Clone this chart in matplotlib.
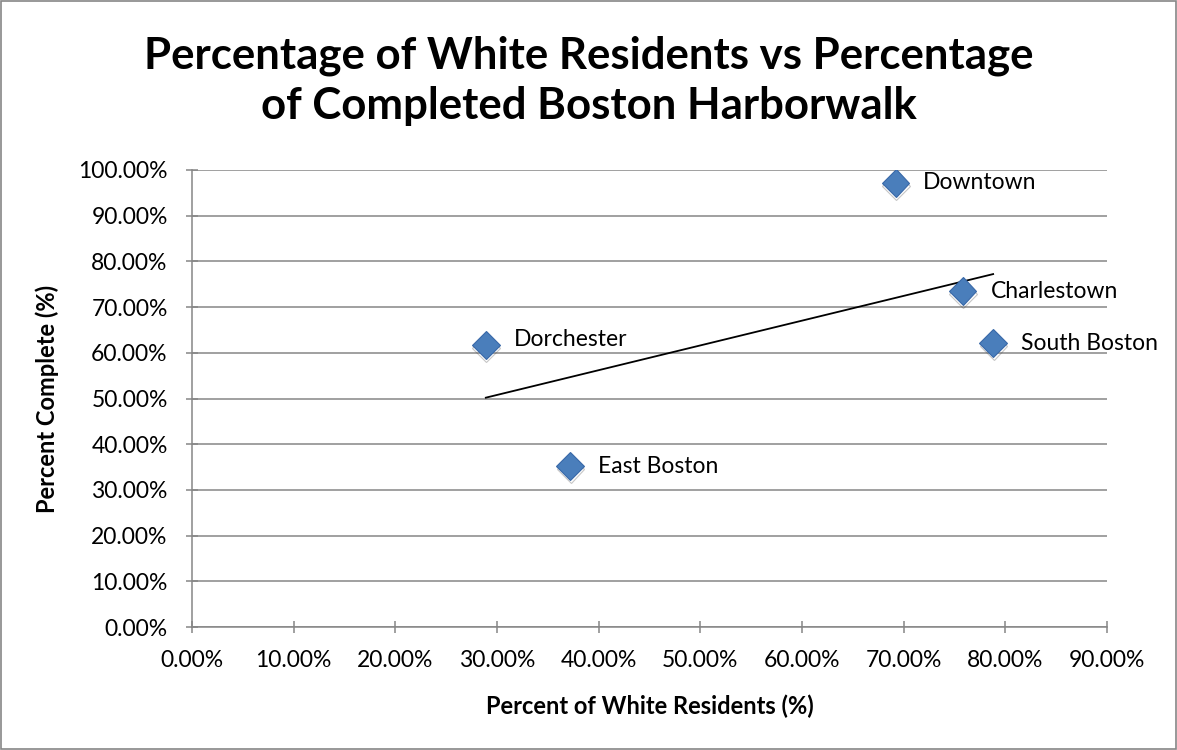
import numpy as np
import matplotlib
matplotlib.use("Agg")
import matplotlib.pyplot as plt
from matplotlib.patches import Rectangle
from matplotlib.ticker import PercentFormatter
import matplotlib.patheffects as pe

neighborhoods = ["Downtown", "Charlestown", "South Boston", "Dorchester", "East Boston"]
pct_white = [69.2, 75.8, 78.8, 28.9, 37.2]
pct_complete = [97.2, 73.5, 62.1, 61.7, 35.2]
x_ticks = [0, 10, 20, 30, 40, 50, 60, 70, 80, 90]
y_ticks = [0, 10, 20, 30, 40, 50, 60, 70, 80, 90, 100]

plt.rcParams["font.family"] = ["Lato", "DejaVu Sans"]

fig = plt.figure(figsize=(11.77, 7.5), dpi=100)
ax = fig.add_axes([192 / 1177, 123 / 750, 915 / 1177, 457 / 750])

grid_c = "#868686"
ax.set_xlim(0, 90)
ax.set_ylim(0, 100)
ax.set_xticks(x_ticks)
ax.set_yticks(y_ticks)
ax.xaxis.set_major_formatter(PercentFormatter(decimals=2))
ax.yaxis.set_major_formatter(PercentFormatter(decimals=2))
ax.yaxis.grid(True, color=grid_c, lw=1.1)
ax.set_axisbelow(True)
for s in ["top", "right"]:
    ax.spines[s].set_visible(False)
for s in ["left", "bottom"]:
    ax.spines[s].set_color(grid_c)
    ax.spines[s].set_linewidth(1.1)
ax.tick_params(axis="both", direction="inout", length=9, width=1.1, color=grid_c,
               labelsize=16.5, labelcolor="black")
ax.tick_params(axis="x", pad=12)
ax.tick_params(axis="y", pad=13)

# Linear trendline over the data range
slope, intercept = np.polyfit(pct_white, pct_complete, 1)
xs = np.array([min(pct_white), max(pct_white)])
ax.plot(xs, slope * xs + intercept, color="black", lw=1.3, zorder=3)

ax.plot(pct_white, pct_complete, linestyle="none", marker="D", ms=14,
        markerfacecolor="#4A7EBB", markeredgecolor="#3868A8", markeredgewidth=0.8,
        zorder=4,
        path_effects=[pe.SimpleLineShadow(offset=(0.3, -2.2), shadow_color="#444444", alpha=0.3),
                      pe.Normal()])

for name, x, y in zip(neighborhoods, pct_white, pct_complete):
    dy = 4 if name == "Dorchester" else 0
    ax.annotate(name, (x, y), xytext=(20, dy), textcoords="offset points",
                ha="left", va="center", fontsize=16.5, zorder=5)

ax.set_xlabel("Percent of White Residents (%)", fontsize=17, fontweight="bold", labelpad=17)
ax.set_ylabel("Percent Complete (%)", fontsize=17, fontweight="bold", labelpad=14)

fig.text(0.5, 0.892, "Percentage of White Residents vs Percentage\nof Completed Boston Harborwalk",
         ha="center", va="center", fontsize=31.5, fontweight="bold", linespacing=1.3)

fig.patches.append(Rectangle((0.001, 0.001), 0.998, 0.998, transform=fig.transFigure,
                             fill=False, edgecolor="#868686", lw=1.2))

fig.savefig("out.png", dpi=100, facecolor="white")
